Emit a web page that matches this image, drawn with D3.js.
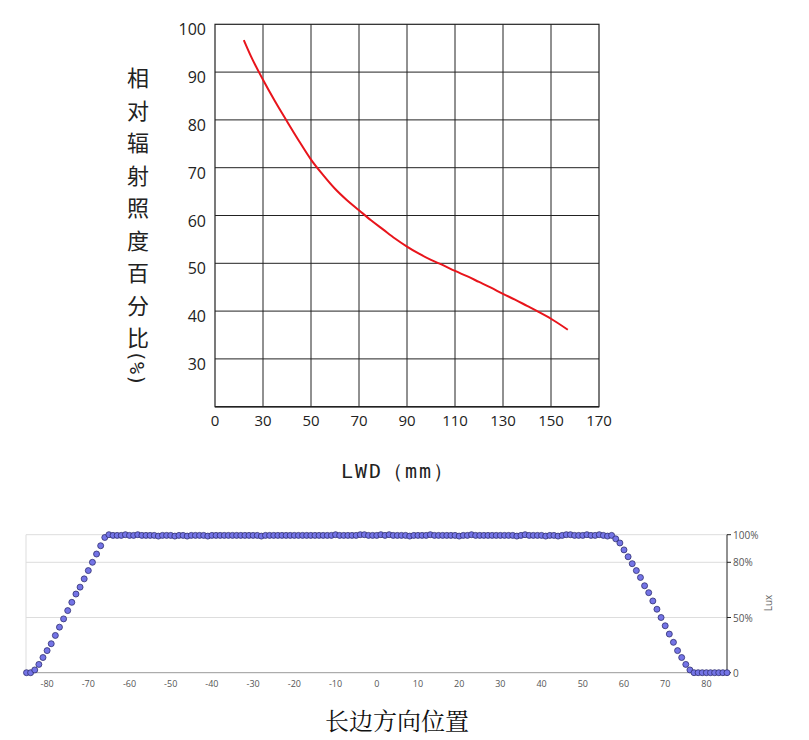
<!DOCTYPE html>
<html><head><meta charset="utf-8">
<script src="https://cdn.jsdelivr.net/npm/d3@7"></script>
<style>body{margin:0;background:#fff}svg{display:block}</style>
</head><body>
<svg id="c" width="809" height="740"></svg>
<script>
// Top chart data
const lwd = [22,25,30,35,40,45,50,55,60,65,70,75,80,85,90,95,100,105,110,115,120,125,130,135,140,145,150,157];
const irr = [96.7,93.3,88.4,83.9,79.7,75.6,71.7,68.5,65.6,63.2,61.1,59.0,57.1,55.2,53.5,52.0,50.7,49.6,48.4,47.3,46.1,44.9,43.6,42.4,41.1,39.8,38.4,36.1];
const xTicksTop = [10,30,50,70,90,110,130,150,170];
const xTickLabelsTop = ["0","30","50","70","90","110","130","150","170"];
const yTicksTop = [30,40,50,60,70,80,90,100];

// Bottom chart data
const pos = d3.range(-85, 86); // positions -85..85 step 1
const lux = [
0,0,2,6,11,16,21,27,33,39,45,51,57,62,68,74,80,86,92,98,
100,99.5,99.5,99.5,100,99.5,99.5,100,99.5,99.5,99.5,99.5,99,99.5,99.5,99.5,99,99.5,99.5,99,
99.5,99.5,99.5,99.5,99,99.5,99.5,99.5,99.5,99.5,99.5,99.5,99.5,99.5,99.5,99.5,99.5,99,99.5,99.5,
99.5,99.5,99.5,99.5,99.5,99.5,99.5,99.5,99.5,99.5,99.5,99.5,99.5,99.5,99.5,100,99.5,99.5,99.5,99.5,
99.5,100,100,99.5,99.5,99.5,100,99.5,100,99.5,99.5,99.5,99.5,99,99.5,99.5,99.5,99.5,100,99.5,
99.5,99.5,99.5,99.5,99.5,99,99.5,99.5,100,99.5,99.5,99.5,99.5,99.5,99.5,99.5,99.5,99.5,99.5,99,
99.5,100,99.5,99.5,99.5,99.5,99,99.5,99.5,99,99.5,100,100,99.5,99.5,99.5,100,99.5,99.5,100,
99.5,99,99.5,97,94,89,84,79,74,69,63,58,52,46,40,34,28,22,16,11,
6,2,0,0,0,0,0,0,0,0,0
].slice(0, 171);
const yTicksBot = [0,40,80,100];
const yTickLabelsBot = ["0","50%","80%","100%"];
const xTicksBot = [-80,-70,-60,-50,-40,-30,-20,-10,0,10,20,30,40,50,60,70,80];

const svg = d3.select("#c");

// ---- top chart
const x = d3.scaleLinear().domain([10,170]).range([215,599]);
const y = d3.scaleLinear().domain([20,100]).range([406.7,24.3]);
const g = svg.append("g");
g.append("rect").attr("x",x(10)).attr("y",y(100)).attr("width",x(170)-x(10)).attr("height",y(20)-y(100))
 .attr("fill","none").attr("stroke","#222").attr("stroke-width",1.2);
g.selectAll(".vg").data(xTicksTop.slice(1,-1)).join("line")
 .attr("x1",d=>x(d)).attr("x2",d=>x(d)).attr("y1",y(100)).attr("y2",y(20)).attr("stroke","#222").attr("stroke-width",1);
g.selectAll(".hg").data(yTicksTop.slice(0,-1)).join("line")
 .attr("x1",x(10)).attr("x2",x(170)).attr("y1",d=>y(d)).attr("y2",d=>y(d)).attr("stroke","#222").attr("stroke-width",1);
g.append("line").attr("x1",x(10)).attr("x2",x(170)).attr("y1",y(20)).attr("y2",y(20)).attr("stroke","#222").attr("stroke-width",1.5);
g.selectAll(".yl").data(yTicksTop).join("text")
 .attr("x",206).attr("y",d=>y(d)+11).attr("text-anchor","end")
 .attr("font-family","Open Sans, sans-serif").attr("font-size",16).attr("fill","#222").text(d=>d);
g.selectAll(".xl").data(xTicksTop).join("text")
 .attr("x",d=>x(d)).attr("y",426).attr("text-anchor","middle")
 .attr("font-family","Open Sans, sans-serif").attr("font-size",15).attr("fill","#222")
 .text((d,i)=>xTickLabelsTop[i]);
g.append("path").datum(lwd.map((v,i)=>[v,irr[i]]))
 .attr("d",d3.line().x(d=>x(d[0])).y(d=>y(d[1])).curve(d3.curveMonotoneX))
 .attr("fill","none").attr("stroke","#e8141b").attr("stroke-width",2);
// y axis title vertical
const title = "相对辐射照度百分比";
svg.selectAll(".yt").data(title.split("")).join("text")
 .attr("x",138).attr("y",(d,i)=>86+i*32.5).attr("text-anchor","middle")
 .attr("font-family","Noto Sans CJK SC, sans-serif").attr("font-size",22).attr("fill","#222").text(d=>d);
svg.append("text").attr("transform","translate(130,368) rotate(90)")
 .attr("text-anchor","middle").attr("font-family","DejaVu Sans Mono, monospace").attr("font-size",20).attr("fill","#222").text("(%)");
svg.append("text").attr("x",398).attr("y",478).attr("text-anchor","middle")
 .attr("font-family","DejaVu Sans Mono, monospace").attr("font-size",20).attr("letter-spacing",2).attr("fill","#222")
 .text("LWD（mm）");

// ---- bottom chart
const xb = d3.scaleLinear().domain([-85,85]).range([26.5,727]);
const yb = d3.scaleLinear().domain([0,100]).range([672.7,534.7]);
const b = svg.append("g");
b.selectAll(".bg").data(yTicksBot.slice(1)).join("line")
 .attr("x1",26).attr("x2",727).attr("y1",d=>yb(d)).attr("y2",d=>yb(d)).attr("stroke","#ddd");
b.append("line").attr("x1",26).attr("x2",26).attr("y1",yb(100)).attr("y2",yb(0)).attr("stroke","#ddd");
b.append("line").attr("x1",26).attr("x2",727).attr("y1",yb(0)).attr("y2",yb(0)).attr("stroke","#999");
b.append("line").attr("x1",727).attr("x2",727).attr("y1",yb(100)).attr("y2",yb(0)).attr("stroke","#222");
b.selectAll(".bt").data(yTicksBot).join("line")
 .attr("x1",727).attr("x2",731).attr("y1",d=>yb(d)).attr("y2",d=>yb(d)).attr("stroke","#222");
b.selectAll(".byl").data(yTicksBot).join("text")
 .attr("x",733).attr("y",d=>yb(d)+4).attr("font-family","Open Sans, sans-serif").attr("font-size",10).attr("fill","#555")
 .text((d,i)=>yTickLabelsBot[i]);
b.append("text").attr("transform","translate(772,603) rotate(-90)").attr("text-anchor","middle")
 .attr("font-family","Open Sans, sans-serif").attr("font-size",10).attr("fill","#666").text("Lux");
b.selectAll(".bxl").data(xTicksBot).join("text")
 .attr("x",d=>xb(d)).attr("y",687).attr("text-anchor","middle")
 .attr("font-family","Open Sans, sans-serif").attr("font-size",9).attr("fill","#555").text(d=>d);
b.selectAll("circle").data(pos.map((p,i)=>[p,lux[i]])).join("circle")
 .attr("cx",d=>xb(d[0])).attr("cy",d=>yb(d[1])).attr("r",3)
 .attr("fill","#7474e6").attr("stroke","#2e2e70").attr("stroke-width",0.8);
svg.append("text").attr("x",397).attr("y",730).attr("text-anchor","middle")
 .attr("font-family","Noto Serif CJK SC, Noto Sans CJK SC, serif").attr("font-size",24).attr("fill","#111").text("长边方向位置");
</script>
</body></html>
